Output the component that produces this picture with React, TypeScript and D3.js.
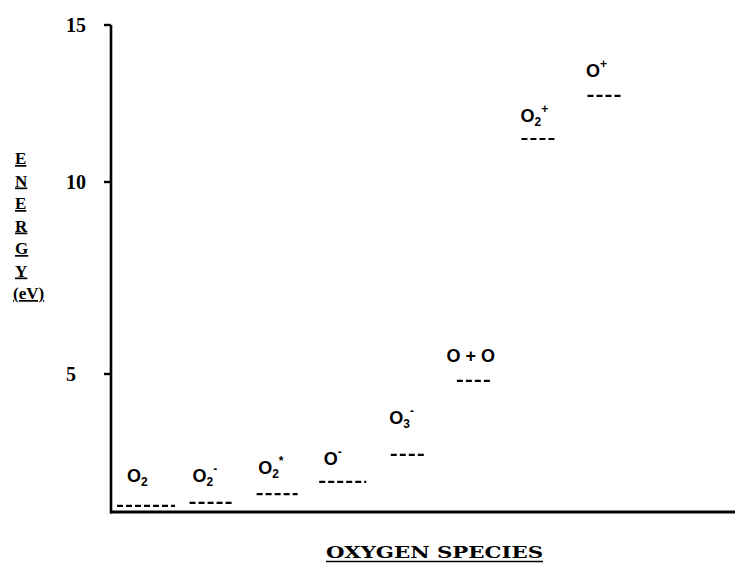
import React from "react";
import * as d3 from "d3";

// ---- data ----
const species = ["O2", "O2-", "O2*", "O-", "O3-", "O+O", "O2+", "O+"];
const energies = [0.22, 0.33, 0.65, 1.09, 2.07, 4.75, 11.37, 12.74];
const labelBase = ["O", "O", "O", "O", "O", "O + O", "O", "O"];
const labelSub = ["2", "2", "2", "", "3", "", "2", ""];
const labelSup = ["", "-", "*", "-", "-", "", "+", "+"];
const yTicks = [5, 10, 15];
const yTitle = ["E", "N", "E", "R", "G", "Y", "(eV)"];
const xTitle = "OXYGEN SPECIES";

// ---- layout (not data) ----
const W = 735;
const H = 565;
const axisX = 111;
const axisBottom = 512;
const levelWidths = [58, 44, 41, 47, 35, 34, 36, 35];
const labelGaps = [31, 28, 27, 24, 38, 26, 24, 26];

export default function App() {
  // scanned original has uneven tick spacing -> polylinear scale
  const y = d3.scaleLinear().domain([0, 5, 10, 15]).range([axisBottom, 374, 182, 25]);
  const x = d3.scalePoint<string>().domain(species).range([146, 605]);

  const serif = "'Liberation Serif', 'Times New Roman', serif";
  const wideSerif = "'DejaVu Serif', 'Liberation Serif', serif";
  const sans = "'Liberation Sans', Arial, sans-serif";

  return (
    <svg
      width={W}
      height={H}
      viewBox={`0 0 ${W} ${H}`}
      style={{ position: "absolute", left: 0, top: 0, background: "#fff" }}
    >
      <rect width={W} height={H} fill="#fff" />
      {/* axes */}
      <line x1={axisX} x2={axisX} y1={y(15)} y2={axisBottom + 1.5} stroke="#000" strokeWidth={2.6} />
      <line x1={axisX - 1} x2={W} y1={axisBottom} y2={axisBottom} stroke="#000" strokeWidth={3} />
      {yTicks.map((t) => (
        <g key={t}>
          <line x1={axisX - 7} x2={axisX} y1={y(t)} y2={y(t)} stroke="#000" strokeWidth={2.4} />
          <text
            x={66}
            y={y(t) + 7}
            fontFamily={serif}
            fontWeight="bold"
            fontSize={20}
            fill="#000"
          >
            {t}
          </text>
        </g>
      ))}
      {/* y title */}
      {yTitle.map((c, i) => (
        <text
          key={i}
          x={c.length > 1 ? 13 : 15}
          y={164 + i * 22.5}
          fontFamily={serif}
          fontWeight="bold"
          fontSize={17}
          textDecoration="underline"
          fill="#000"
        >
          {c}
        </text>
      ))}
      {/* x title */}
      <text
        x={326}
        y={558}
        fontFamily={wideSerif}
        fontWeight="bold"
        fontSize={17}
        textLength={217}
        lengthAdjust="spacingAndGlyphs"
        fill="#000"
      >
        {xTitle}
      </text>
      <line x1={326} x2={543} y1={561.5} y2={561.5} stroke="#000" strokeWidth={1.6} />
      {/* levels */}
      {species.map((s, i) => {
        const cx = x(s) as number;
        const ly = y(energies[i]);
        const w = levelWidths[i];
        const ty = ly - labelGaps[i] + 7;
        const isPair = labelBase[i].length > 1;
        return (
          <g key={s}>
            <line
              x1={cx - w / 2}
              x2={cx + w / 2}
              y1={ly}
              y2={ly}
              stroke="#000"
              strokeWidth={2.2}
              strokeDasharray="6,3"
            />
            <text
              x={isPair ? cx - 3 : cx - 19}
              y={ty}
              textAnchor={isPair ? "middle" : "start"}
              fontFamily={sans}
              fontWeight="bold"
              fontSize={18}
              fill="#000"
            >
              {labelBase[i]}
              {labelSub[i] && (
                <tspan fontSize={12} dy={4}>
                  {labelSub[i]}
                </tspan>
              )}
              {labelSup[i] && (
                <tspan fontSize={12} dy={labelSub[i] ? -13 : -9}>
                  {labelSup[i]}
                </tspan>
              )}
            </text>
          </g>
        );
      })}
    </svg>
  );
}
